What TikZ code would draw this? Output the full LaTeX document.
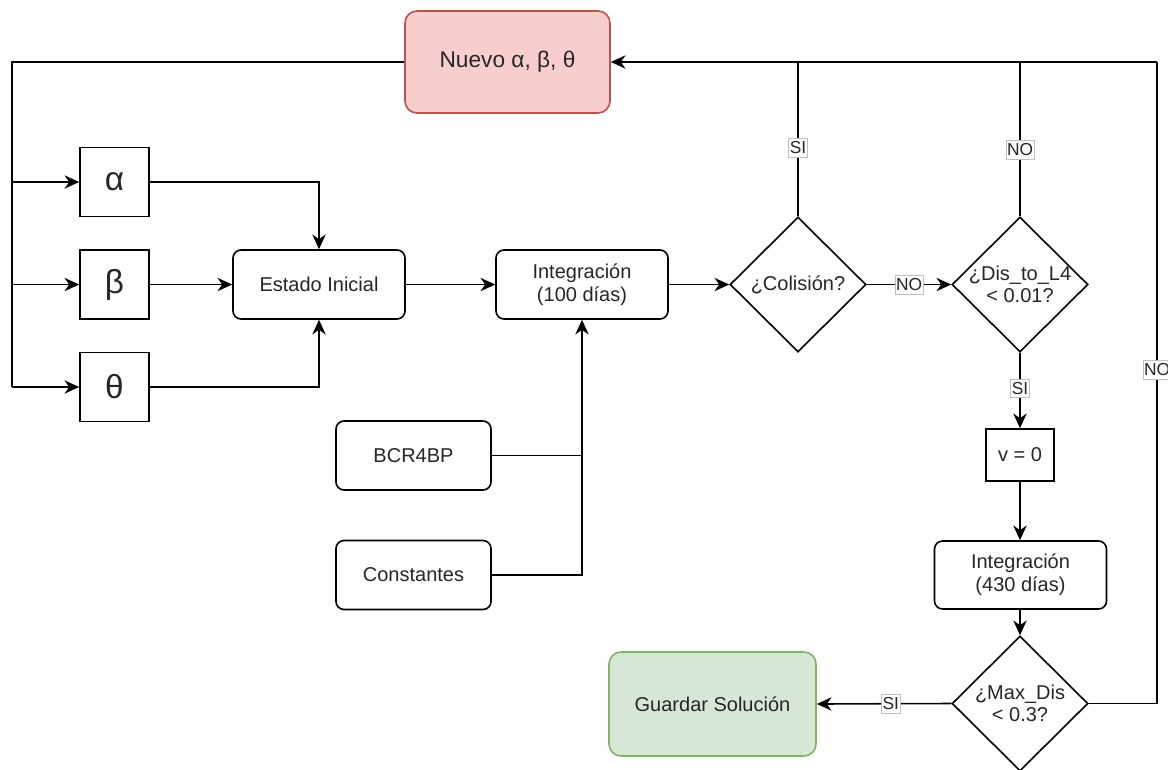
\documentclass[tikz,border=0pt]{standalone}
\usepackage{fontspec}
\setmainfont{Liberation Sans}
\usetikzlibrary{shapes.geometric,arrows.meta}
\definecolor{redfill}{HTML}{F8CECC}
\definecolor{redline}{HTML}{B85450}
\definecolor{greenfill}{HTML}{D5E8D4}
\definecolor{greenline}{HTML}{82B366}
\definecolor{txt}{HTML}{262626}
\begin{document}
\begin{tikzpicture}[x=0.75pt,y=-0.75pt,
  every node/.style={text=txt},
  base/.style={draw, line width=1.2pt, fill=white, inner sep=0pt, align=center, font=\fontsize{15}{17}\selectfont},
  rbox/.style={base, rounded corners=6pt},
  sbox/.style={base},
  greek/.style={base, minimum width=51.75pt, minimum height=51.75pt, font=\fontsize{25}{25}\selectfont},
  dia/.style={draw, line width=1.2pt, fill=white, diamond, inner sep=0pt, minimum width=102pt, minimum height=101.25pt},
  dtext/.style={align=center, inner sep=0pt, font=\fontsize{15}{17}\selectfont},
  lab/.style={fill=white, draw=black!25, line width=0.4pt, inner xsep=0.8pt, inner ysep=2.5pt, font=\fontsize{13}{13}\selectfont},
  conn/.style={line width=1.2pt, draw=black},
  arr/.style={conn, -{Stealth[length=11pt,width=10pt,inset=3.5pt]}}
]
\useasboundingbox (0,0) rectangle (1168,769);

% nodes
\node[rbox, rounded corners=9pt, fill=redfill, draw=redline, minimum width=153.75pt, minimum height=76.5pt, font=\fontsize{17}{19}\selectfont] (nuevo) at (507.5,62) {Nuevo α, β, θ};
\node[greek] (alpha) at (114.5,182) {α};
\node[greek] (beta) at (114.5,284.5) {β};
\node[greek] (theta) at (114.5,387) {θ};
\node[rbox, minimum width=129pt, minimum height=51.75pt] (estado) at (319,284.5) {Estado Inicial};
\node[rbox, minimum width=129pt, minimum height=51.75pt] (int1) at (582,284.5) {Integración\\(100 días)};
\node[dia, label={[dtext]center:¿Colisión?}] (col) at (798,284.5) {};
\node[dia, label={[dtext]center:¿Dis\_to\_L4\\< 0.01?}] (dis) at (1020,284.5) {};
\node[sbox, minimum width=51pt, minimum height=39pt] (vzero) at (1020,455) {v = 0};
\node[rbox, minimum width=129pt, minimum height=51pt] (int2) at (1020.5,575) {Integración\\(430 días)};
\node[dia, label={[dtext]center:¿Max\_Dis\\< 0.3?}] (max) at (1020,703.5) {};
\node[rbox, rounded corners=9pt, fill=greenfill, draw=greenline, minimum width=155.25pt, minimum height=78pt] (guardar) at (712.5,704) {Guardar Solución};
\node[rbox, minimum width=116.25pt, minimum height=51.75pt] (bcr) at (413.5,455.5) {BCR4BP};
\node[rbox, minimum width=116.25pt, minimum height=51.75pt] (const) at (413.5,575) {Constantes};

\coordinate (lt) at (12,62);
\coordinate (lb) at (12,387);
\coordinate (tr) at (1157,62);

% left feedback bus
\draw[conn] (nuevo.west) -- (lt) -- (lb);
\draw[arr] (lb) -- (theta.west);
\draw[arr] (lt |- alpha.west) -- (alpha.west);
\draw[arr] (lt |- beta.west) -- (beta.west);

% inputs to estado
\draw[arr] (alpha.east) -| (estado.north);
\draw[arr] (beta.east) -- (estado.west);
\draw[arr] (theta.east) -| (estado.south);

% main chain
\draw[arr] (estado.east) -- (int1.west);
\draw[arr] (int1.east) -- (col.west);
\draw[arr] (col.east) -- node[lab, pos=0.5]{NO} (dis.west);
\draw[arr] (dis.south) -- node[lab, pos=0.47]{SI} (vzero.north);
\draw[arr] (vzero.south) -- (vzero.south |- int2.north);
\draw[arr] (int2.south -| max.north) -- (max.north);
\draw[arr] (max.west) -- node[lab, pos=0.45]{SI} (guardar.east);

% model inputs
\draw[conn] (bcr.east) -- (bcr.east -| int1.south);
\draw[arr] (const.east) -| (int1.south);

% feedback to nuevo
\draw[conn] (max.east) -| node[lab, pos=0.76]{NO} (tr);
\draw[arr] (tr) -- (nuevo.east);
\draw[conn] (col.north) -- node[lab, pos=0.445]{SI} (col.north |- nuevo.east);
\draw[conn] (dis.north) -- node[lab, pos=0.43]{NO} (dis.north |- nuevo.east);
\end{tikzpicture}
\end{document}
